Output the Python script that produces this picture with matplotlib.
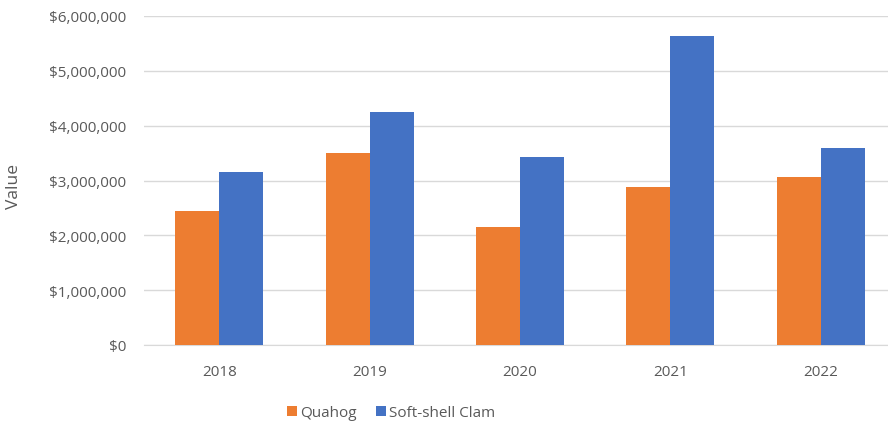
import matplotlib.pyplot as plt
import numpy as np
from matplotlib.ticker import FuncFormatter

years = ['2018', '2019', '2020', '2021', '2022']
quahog = [2440000, 3500000, 2160000, 2880000, 3070000]
soft_shell = [3160000, 4250000, 3430000, 5640000, 3600000]

ORANGE = '#ED7D31'
BLUE = '#4472C4'
TEXT = '#595959'
GRID = '#D9D9D9'

plt.rcParams['font.family'] = ['Open Sans', 'DejaVu Sans']

fig = plt.figure(figsize=(8.88, 4.27), dpi=100)
ax = fig.add_axes([144 / 888, 81 / 427, 752 / 888, 329 / 427])

x = np.arange(len(years))
bw = 0.293
ax.bar(x - bw / 2, quahog, width=bw, color=ORANGE, label='Quahog', zorder=3)
ax.bar(x + bw / 2, soft_shell, width=bw, color=BLUE, label='Soft-shell Clam', zorder=3)

ax.set_xlim(-0.5, len(years) - 0.5)
ax.set_ylim(0, 6000000)
ax.set_yticks(np.arange(0, 6000001, 1000000))
ax.yaxis.set_major_formatter(FuncFormatter(lambda v, p: f"${v:,.0f}"))
ax.set_xticks(x)
ax.set_xticklabels(years)

ax.grid(axis='y', color=GRID, linewidth=1, zorder=0)
for s in ['top', 'right', 'left']:
    ax.spines[s].set_visible(False)
ax.spines['bottom'].set_color(GRID)
ax.tick_params(axis='both', length=0, colors=TEXT, labelsize=11)
ax.tick_params(axis='x', pad=14)
ax.tick_params(axis='y', pad=13)

ax.set_ylabel('Value', color=TEXT, fontsize=12.5, va='center')
ax.yaxis.set_label_coords((14 - 144) / 752, 0.485)

fig.legend(loc='center', bbox_to_anchor=(391 / 888, 1 - 414 / 427), ncol=2,
           frameon=False, fontsize=11, labelcolor=TEXT, handlelength=0.65,
           handleheight=0.65, handletextpad=0.2, columnspacing=1.3)

plt.savefig('out.png', dpi=100)
plt.close()
